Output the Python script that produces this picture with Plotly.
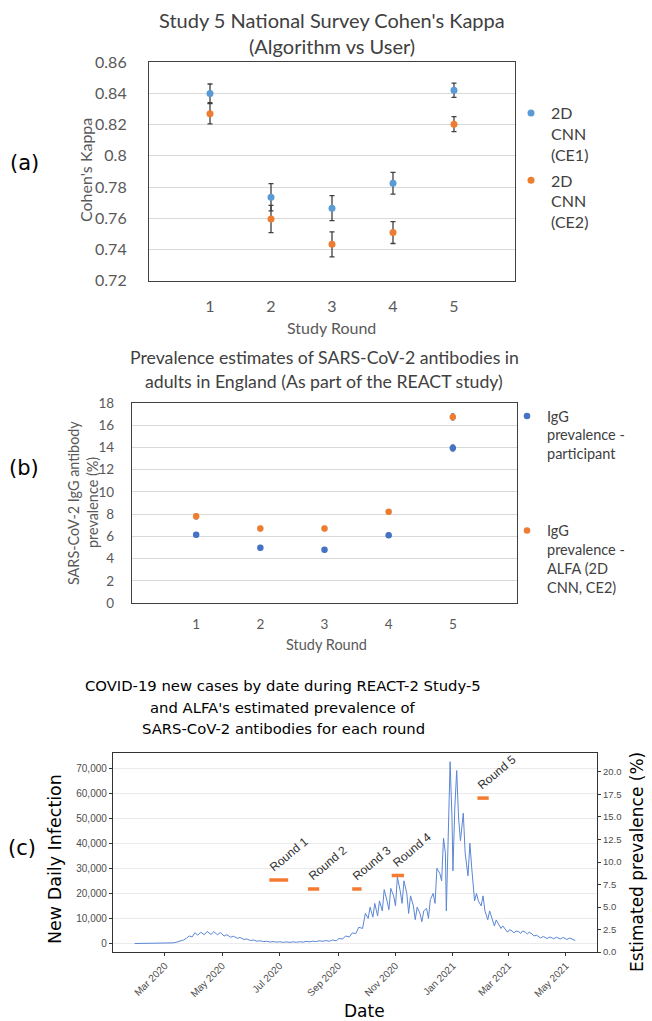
import plotly.graph_objects as go

W, H = 652, 1021


def fx(px):
    return px / W


def fy(py):
    return 1 - py / H


# ---------------- Panel (a) data ----------------
rounds = [1, 2, 3, 4, 5]
kappa_ce1 = [0.840, 0.7735, 0.7665, 0.7825, 0.842]
kappa_ce1_err = [0.006, 0.0087, 0.008, 0.007, 0.0046]
kappa_ce2 = [0.827, 0.7596, 0.7434, 0.7509, 0.8203]
kappa_ce2_err = [0.0065, 0.0087, 0.008, 0.007, 0.0048]
kappa_ticks = [0.72, 0.74, 0.76, 0.78, 0.80, 0.82, 0.84, 0.86]
kappa_tick_text = ["0.72", "0.74", "0.76", "0.78", "0.8", "0.82", "0.84", "0.86"]

# ---------------- Panel (b) data ----------------
igg_participant = [6.15, 4.98, 4.8, 6.1, 13.95]
igg_participant_err = [0.2, 0.2, 0.2, 0.2, 0.3]
igg_alfa = [7.8, 6.7, 6.7, 8.22, 16.75]
igg_alfa_err = [0.25, 0.2, 0.2, 0.2, 0.3]

# ---------------- Panel (c) data ----------------
case_dates = [
    "2020-01-29", "2020-02-15", "2020-03-01", "2020-03-06", "2020-03-10", "2020-03-14", "2020-03-18",
    "2020-03-21", "2020-03-24", "2020-03-27", "2020-03-30",
    "2020-04-02", "2020-04-05", "2020-04-08", "2020-04-12", "2020-04-15", "2020-04-19", "2020-04-22",
    "2020-04-26", "2020-04-29",
    "2020-05-03", "2020-05-06", "2020-05-10", "2020-05-13", "2020-05-17", "2020-05-20", "2020-05-24",
    "2020-05-27", "2020-05-31",
    "2020-06-03", "2020-06-07", "2020-06-10", "2020-06-14", "2020-06-17", "2020-06-21", "2020-06-24",
    "2020-06-28",
    "2020-07-01", "2020-07-05", "2020-07-08", "2020-07-12", "2020-07-15", "2020-07-19", "2020-07-22",
    "2020-07-26", "2020-07-29",
    "2020-08-02", "2020-08-05", "2020-08-09", "2020-08-12", "2020-08-16", "2020-08-19", "2020-08-23",
    "2020-08-26", "2020-08-30",
    "2020-09-02", "2020-09-06", "2020-09-09", "2020-09-13", "2020-09-16", "2020-09-20", "2020-09-23",
    "2020-09-27", "2020-09-30",
    "2020-10-03", "2020-10-05", "2020-10-08", "2020-10-10", "2020-10-13", "2020-10-15", "2020-10-18",
    "2020-10-20", "2020-10-23", "2020-10-25", "2020-10-27", "2020-10-30",
    "2020-11-01", "2020-11-03", "2020-11-06", "2020-11-08", "2020-11-10", "2020-11-13", "2020-11-15",
    "2020-11-17", "2020-11-20", "2020-11-22", "2020-11-24", "2020-11-27", "2020-11-29",
    "2020-12-01", "2020-12-04", "2020-12-06", "2020-12-08", "2020-12-11", "2020-12-13", "2020-12-15",
    "2020-12-18", "2020-12-20", "2020-12-22", "2020-12-24", "2020-12-25", "2020-12-27", "2020-12-29",
    "2020-12-31",
    "2021-01-01", "2021-01-03", "2021-01-05", "2021-01-07", "2021-01-09", "2021-01-12", "2021-01-14",
    "2021-01-17", "2021-01-19", "2021-01-21", "2021-01-24", "2021-01-26", "2021-01-28", "2021-01-31",
    "2021-02-02", "2021-02-04", "2021-02-07", "2021-02-09", "2021-02-12", "2021-02-14", "2021-02-16",
    "2021-02-19", "2021-02-21", "2021-02-23", "2021-02-26", "2021-02-28",
    "2021-03-02", "2021-03-05", "2021-03-07", "2021-03-09", "2021-03-12", "2021-03-14", "2021-03-16",
    "2021-03-19", "2021-03-21", "2021-03-23", "2021-03-26", "2021-03-28", "2021-03-31",
    "2021-04-04", "2021-04-07", "2021-04-11", "2021-04-14", "2021-04-18", "2021-04-21", "2021-04-25",
    "2021-04-28",
    "2021-05-02", "2021-05-05", "2021-05-09", "2021-05-11",
]
case_values = [
    0, 0, 30, 100, 250, 600, 1000, 1400, 2100, 3000, 2600,
    4300, 3300, 4500, 3500, 4800, 3600, 4700, 3500, 4400,
    3000, 3500, 2500, 2900, 2100, 2400, 1600, 1800, 1200,
    1400, 900, 1100, 750, 900, 600, 750, 550,
    700, 450, 650, 450, 650, 500, 700, 550, 850,
    650, 950, 750, 1100, 850, 1200, 900, 1400, 1100,
    2000, 1800, 3000, 2600, 4200, 4000, 6500, 6000, 12000,
    10000, 14500, 10500, 16000, 11000, 17000, 13000, 21500, 17000, 13500, 22000, 19000,
    15000, 26500, 21000, 16000, 25000, 20000, 12000, 19000, 15000, 9500, 14500, 12000, 8700,
    13000, 14000, 10000, 17500, 20000, 16000, 30000, 28000, 25000, 42000, 36000, 13000, 45000, 72500, 50000,
    29000, 54000, 69000, 50000, 41000, 52000, 36000, 27000, 40000, 30000, 17000, 20000, 17000, 15000,
    19000, 13000, 9500, 13000, 9000, 7000, 9400, 7500, 6000, 7000, 5500, 4500,
    5500, 5000, 4200, 5000, 4700, 4000, 5000, 4500, 3800, 4500, 3800, 3000, 3300,
    2200, 2800, 2000, 2600, 1900, 2500, 1800, 2400,
    1600, 2200, 1400, 1200,
]
round_names = ["Round 1", "Round 2", "Round 3", "Round 4", "Round 5"]
round_start = ["2020-06-20", "2020-07-31", "2020-09-16", "2020-10-28", "2021-01-27"]
round_end = ["2020-07-10", "2020-08-12", "2020-09-26", "2020-11-10", "2021-02-08"]
round_prev = [8.0, 7.0, 7.0, 8.5, 17.1]
date_ticks = ["2020-03-01", "2020-05-01", "2020-07-01", "2020-09-01", "2020-11-01",
              "2021-01-01", "2021-03-01", "2021-05-01"]

BLUE_A = "#5B9BD5"
ORANGE = "#ED7D31"
BLUE_B = "#4472C4"
DARK = "#404040"
TICK = "#595959"
XL_FONT = "Lato"

fig = go.Figure()

# Panel (a)
fig.add_trace(go.Scatter(
    x=rounds, y=kappa_ce1, mode="markers", name="2D<br>CNN<br>(CE1)",
    marker=dict(color=BLUE_A, size=7),
    error_y=dict(type="data", array=kappa_ce1_err, color=DARK, thickness=1.3, width=2.5),
    xaxis="x", yaxis="y", legend="legend", legendgroup="a1"))
fig.add_trace(go.Scatter(
    x=rounds, y=kappa_ce2, mode="markers", name="2D<br>CNN<br>(CE2)",
    marker=dict(color=ORANGE, size=7),
    error_y=dict(type="data", array=kappa_ce2_err, color=DARK, thickness=1.3, width=2.5),
    xaxis="x", yaxis="y", legend="legend", legendgroup="a2"))

# Panel (b)
fig.add_trace(go.Scatter(
    x=rounds, y=igg_participant, mode="markers", name="IgG<br>prevalence -<br>participant",
    marker=dict(color=BLUE_B, size=6.5),
    error_y=dict(type="data", array=igg_participant_err, color="#7f7f7f", thickness=1, width=1.5),
    xaxis="x2", yaxis="y2", legend="legend2", legendgroup="b1"))
fig.add_trace(go.Scatter(
    x=rounds, y=igg_alfa, mode="markers", name="IgG<br>prevalence -<br>ALFA (2D<br>CNN, CE2)",
    marker=dict(color=ORANGE, size=6.5),
    error_y=dict(type="data", array=igg_alfa_err, color="#7f7f7f", thickness=1, width=1.5),
    xaxis="x2", yaxis="y2", legend="legend2", legendgroup="b2"))

# Panel (c)
fig.add_trace(go.Scatter(
    x=case_dates, y=case_values, mode="lines", name="New daily infection",
    line=dict(color="#5b86d6", width=1), showlegend=False,
    xaxis="x3", yaxis="y3"))
for name, s, e, v in zip(round_names, round_start, round_end, round_prev):
    fig.add_trace(go.Scatter(
        x=[s, e], y=[v, v], mode="lines", name=name,
        line=dict(color="#F47B30", width=3.5), showlegend=False,
        xaxis="x3", yaxis="y4"))

annotations = []


def ann(text, x, y, size, color="#000000", family=XL_FONT, angle=0, xanchor="center", yanchor="middle"):
    annotations.append(dict(
        text=text, x=fx(x), y=fy(y), xref="paper", yref="paper", showarrow=False,
        textangle=angle, xanchor=xanchor, yanchor=yanchor,
        font=dict(size=size, color=color, family=family)))


# Titles
ann("Study 5 National Survey Cohen's Kappa", 332, 20, 20, DARK)
ann("(Algorithm vs User)", 332, 46, 20, DARK)
ann("Prevalence estimates of SARS-CoV-2 antibodies in", 324, 357, 17.7, DARK)
ann("adults in England (As part of the REACT study)", 324, 381, 17.7, DARK)
ann("COVID-19 new cases by date during REACT-2 Study-5", 283, 685, 14.8, "#000000", "DejaVu Sans")
ann("and ALFA's estimated prevalence of", 283, 707, 14.8, "#000000", "DejaVu Sans")
ann("SARS-CoV-2 antibodies for each round", 283, 728, 14.8, "#000000", "DejaVu Sans")

# Axis titles
ann("Cohen's Kappa", 85, 170, 16, TICK, angle=-90)
ann("Study Round", 332, 328, 16, TICK)
ann("SARS-CoV-2 IgG antibody", 73, 503, 14.4, TICK, angle=-90)
ann("prevalence (%)", 92, 503, 14.4, TICK, angle=-90)
ann("Study Round", 326, 644, 14.5, TICK)
ann("New Daily Infection", 55, 859, 17.5, "#000000", "DejaVu Sans", angle=-90)
ann("Estimated prevalence (%)", 637, 862, 17, "#000000", "DejaVu Sans", angle=-90)
ann("Date", 364, 1011, 17, "#000000", "DejaVu Sans")

# Panel labels
ann("(a)", 24, 163, 21, "#000000", "DejaVu Sans")
ann("(b)", 24, 468, 21, "#000000", "DejaVu Sans")
ann("(c)", 22, 848, 21, "#000000", "DejaVu Sans")

# Round labels
for name, s, v in zip(round_names, round_start, round_prev):
    annotations.append(dict(
        text=name, x=s, y=v, xref="x3", yref="y4", showarrow=False,
        textangle=-40, xanchor="left", yanchor="bottom", xshift=-5, yshift=3,
        font=dict(size=12, color="#333333", family="Liberation Sans")))

frame = dict(showline=True, mirror=True, linecolor=DARK, linewidth=1.2, zeroline=False,
             automargin=False)
frame_c = dict(showline=True, mirror=True, linecolor="#333333", linewidth=1.3, zeroline=False,
               automargin=False)

fig.update_layout(
    width=W, height=H, margin=dict(l=0, r=0, t=0, b=0, autoexpand=False),
    paper_bgcolor="white", plot_bgcolor="white",
    annotations=annotations,
    xaxis=dict(domain=[fx(149), fx(515)], range=[0, 6], tickvals=rounds, showgrid=False,
               anchor="y", ticks="", ticklabelstandoff=11,
               tickfont=dict(family=XL_FONT, size=16, color=TICK), **frame),
    yaxis=dict(domain=[fy(281), fy(62)], range=[0.7199, 0.8601], tickvals=kappa_ticks,
               ticktext=kappa_tick_text, gridcolor="#d9d9d9", anchor="x", ticks="",
               ticklabelstandoff=18, tickfont=dict(family=XL_FONT, size=16, color=TICK), **frame),
    xaxis2=dict(domain=[fx(132), fx(517)], range=[0, 6], tickvals=rounds, showgrid=False,
                anchor="y2", ticks="", ticklabelstandoff=9,
                tickfont=dict(family=XL_FONT, size=13.5, color=TICK), **frame),
    yaxis2=dict(domain=[fy(603), fy(403)], range=[0, 18.001], dtick=2, tick0=0,
                gridcolor="#d9d9d9", anchor="x2", ticks="", ticklabelstandoff=14,
                tickfont=dict(family=XL_FONT, size=13.5, color=TICK), **frame),
    xaxis3=dict(domain=[fx(113), fx(597)], type="date", range=["2020-01-06", "2021-06-03"],
                tickvals=date_ticks, tickformat="%b %Y", tickangle=-45, showgrid=False,
                anchor="y3", ticks="outside", ticklen=3, tickcolor="#333333",
                tickfont=dict(family="Liberation Sans", size=10, color="#4d4d4d"), **frame_c),
    yaxis3=dict(domain=[fy(952), fy(753)], range=[-3390, 75990], tick0=0, dtick=10000,
                tickformat=",", gridcolor="#ebebeb", anchor="x3", ticks="outside", ticklen=3,
                tickcolor="#333333",
                tickfont=dict(family="Liberation Sans", size=10, color="#4d4d4d"), **frame_c),
    yaxis4=dict(overlaying="y3", side="right", anchor="x3", range=[0, 22.11], tick0=0, dtick=2.5,
                tickformat=".1f", showgrid=False, ticks="outside", ticklen=3, tickcolor="#333333",
                showline=True, linecolor="#333333", linewidth=1.3, zeroline=False, automargin=False,
                tickfont=dict(family="Liberation Sans", size=9.5, color="#4d4d4d")),
    legend=dict(x=fx(511), y=fy(96), xanchor="left", yanchor="top", valign="top",
                bgcolor="rgba(0,0,0,0)", tracegroupgap=2,
                font=dict(family=XL_FONT, size=16, color=DARK)),
    legend2=dict(x=fx(507), y=fy(400), xanchor="left", yanchor="top", valign="top",
                 bgcolor="rgba(0,0,0,0)", tracegroupgap=55,
                 font=dict(family=XL_FONT, size=14.5, color=DARK)),
)

fig.write_html(
    "out.html",
    config={"displayModeBar": False},
    post_script="document.body.style.margin='0px'; document.body.style.padding='0px';",
)
